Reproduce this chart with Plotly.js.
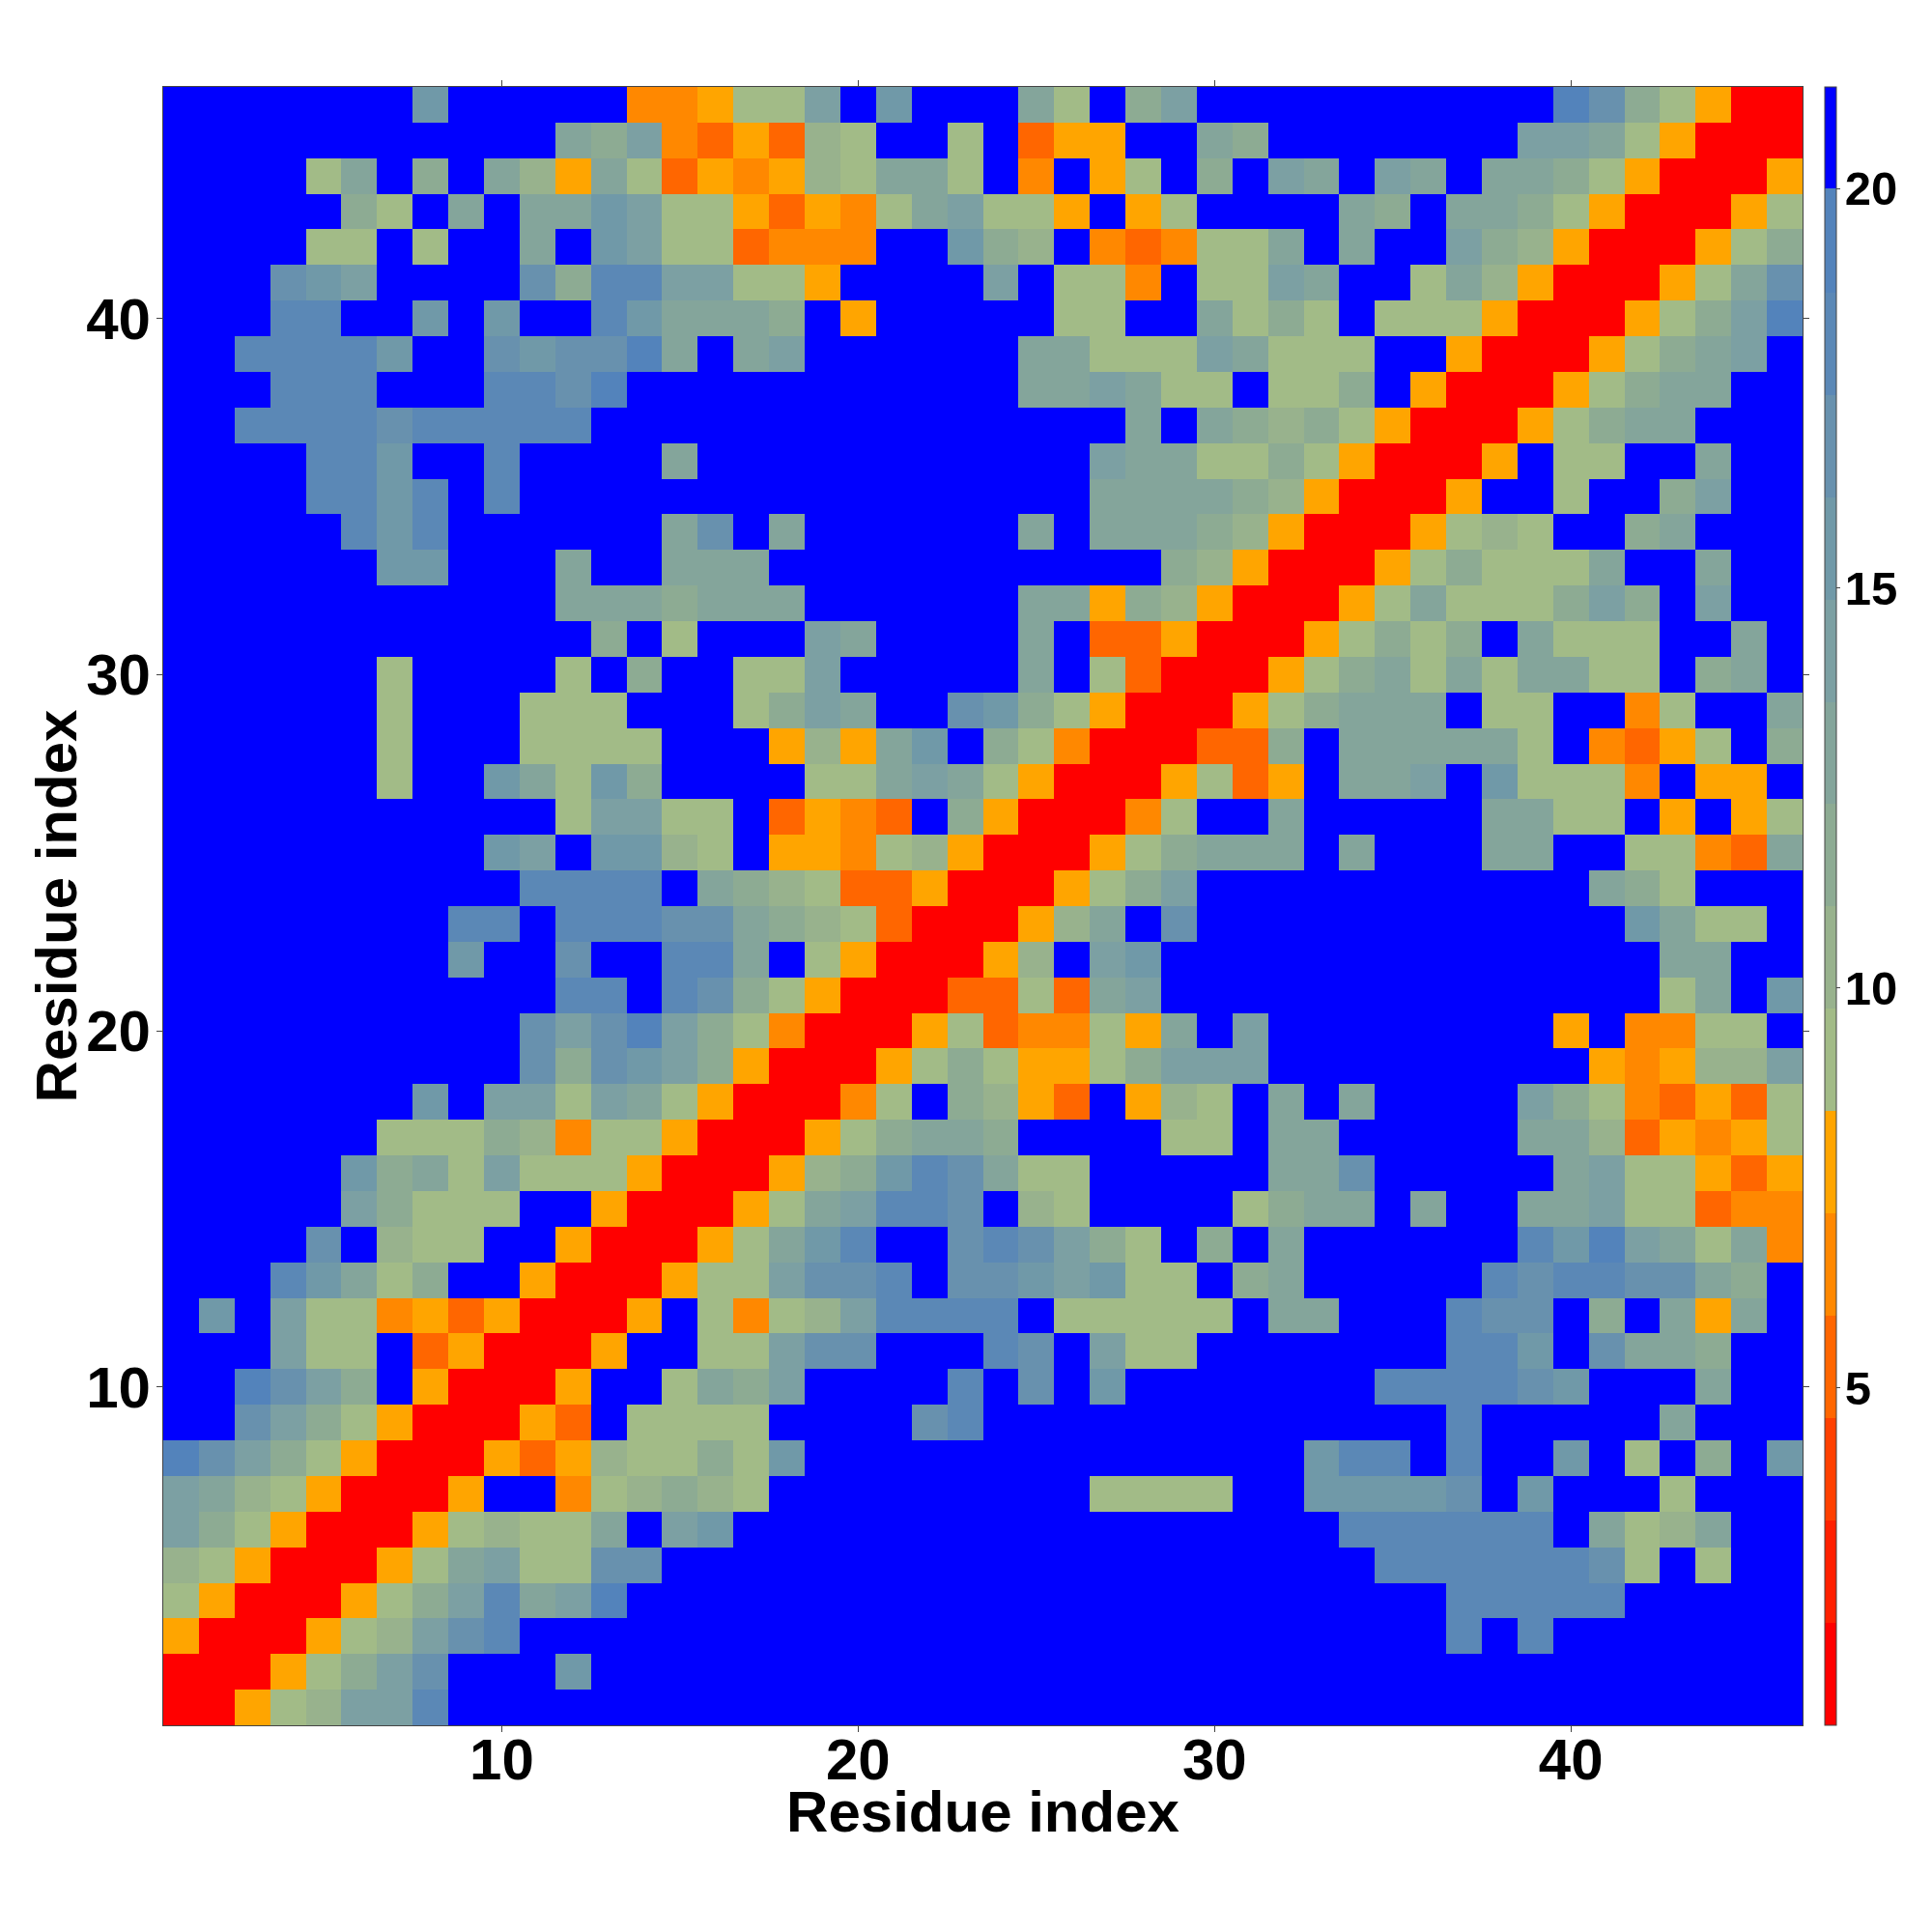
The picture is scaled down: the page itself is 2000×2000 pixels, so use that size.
<!DOCTYPE html>
<html>
<head>
<meta charset="utf-8">
<script src="https://cdn.plot.ly/plotly-3.0.1.min.js"></script>
<style>html,body{margin:0;padding:0;background:#fff}</style>
</head>
<body>
<div id="chart" style="width:2000px;height:2000px"></div>
<script>
const row46 = [21,21,21,21,21,21,21,15,21,21,21,21,21,7,7,8,9,9,14,21,15,21,21,21,13,9,21,12,14,21,21,21,21,21,21,21,21,21,21,19,17,12,9,8,1,1];
const row45 = [21,21,21,21,21,21,21,21,21,21,21,13,12,14,7,5,8,5,10,9,21,21,9,21,5,8,8,21,21,13,12,21,21,21,21,21,21,21,14,14,13,9,8,1,1,1];
const row44 = [21,21,21,21,9,13,21,12,21,13,10,8,13,9,5,8,7,8,10,9,13,13,9,21,7,21,8,9,21,12,21,14,13,21,14,13,21,13,13,12,9,8,1,1,1,8];
const row43 = [21,21,21,21,21,12,9,21,13,21,13,13,15,14,9,9,8,5,8,7,9,13,14,9,9,8,21,8,9,21,21,21,21,13,12,21,13,13,12,9,8,1,1,1,8,9];
const row42 = [21,21,21,21,9,9,21,9,21,21,13,21,15,14,9,9,5,7,7,7,21,21,15,12,10,21,7,5,7,9,9,13,21,13,21,21,14,12,10,8,1,1,1,8,9,12];
const row41 = [21,21,21,17,15,14,21,21,21,21,17,12,18,18,14,14,9,9,8,21,21,21,21,14,21,9,9,7,21,9,9,14,13,21,21,9,13,10,8,1,1,1,8,9,13,17];
const row40 = [21,21,21,18,18,21,21,15,21,15,21,21,18,15,13,13,13,12,21,8,21,21,21,21,21,9,9,21,21,13,9,12,9,21,9,9,9,8,1,1,1,8,9,12,14,19];
const row39 = [21,21,18,18,18,18,15,21,21,17,15,17,17,19,13,21,13,14,21,21,21,21,21,21,13,13,9,9,9,14,13,9,9,9,21,21,8,1,1,1,8,9,12,13,14,21];
const row38 = [21,21,21,18,18,18,21,21,21,18,18,17,19,21,21,21,21,21,21,21,21,21,21,21,13,13,14,13,9,9,21,9,9,12,21,8,1,1,1,8,9,12,13,13,21,21];
const row37 = [21,21,18,18,18,18,17,18,18,18,18,18,21,21,21,21,21,21,21,21,21,21,21,21,21,21,21,13,21,13,12,10,12,9,8,1,1,1,8,9,12,13,13,21,21,21];
const row36 = [21,21,21,21,18,18,15,21,21,18,21,21,21,21,13,21,21,21,21,21,21,21,21,21,21,21,14,13,13,9,9,12,9,8,1,1,1,8,21,9,9,21,21,13,21,21];
const row35 = [21,21,21,21,18,18,15,18,21,18,21,21,21,21,21,21,21,21,21,21,21,21,21,21,21,21,13,13,13,13,12,10,8,1,1,1,8,21,21,9,21,21,12,14,21,21];
const row34 = [21,21,21,21,21,18,15,18,21,21,21,21,21,21,13,17,21,13,21,21,21,21,21,21,13,21,13,13,13,12,10,8,1,1,1,8,9,10,9,21,21,12,13,21,21,21];
const row33 = [21,21,21,21,21,21,15,15,21,21,21,13,21,21,13,13,13,21,21,21,21,21,21,21,21,21,21,21,12,10,8,1,1,1,8,9,12,9,9,9,13,21,21,13,21,21];
const row32 = [21,21,21,21,21,21,21,21,21,21,21,13,13,13,12,13,13,13,21,21,21,21,21,21,13,13,8,12,10,8,1,1,1,8,9,13,9,9,9,12,14,12,21,14,21,21];
const row31 = [21,21,21,21,21,21,21,21,21,21,21,21,12,21,9,21,21,21,14,13,21,21,21,21,13,21,5,5,8,1,1,1,8,9,12,9,12,21,13,9,9,9,21,21,13,21];
const row30 = [21,21,21,21,21,21,9,21,21,21,21,9,21,12,21,21,9,9,14,21,21,21,21,21,13,21,9,5,1,1,1,8,9,12,13,9,13,9,13,13,9,9,21,12,13,21];
const row29 = [21,21,21,21,21,21,9,21,21,21,9,9,9,21,21,21,9,12,14,13,21,21,17,15,12,9,8,1,1,1,8,9,12,13,13,13,21,9,9,21,21,7,9,21,21,13];
const row28 = [21,21,21,21,21,21,9,21,21,21,9,9,9,9,21,21,21,8,10,8,13,15,21,12,9,7,1,1,1,5,5,12,21,13,13,13,13,13,9,21,7,5,8,9,21,12];
const row27 = [21,21,21,21,21,21,9,21,21,15,13,9,15,12,21,21,21,21,9,9,13,14,13,9,8,1,1,1,8,9,5,8,21,13,13,14,21,15,9,9,9,7,21,8,8,21];
const row26 = [21,21,21,21,21,21,21,21,21,21,21,9,14,14,9,9,21,5,8,7,5,21,12,8,1,1,1,7,9,21,21,13,21,21,21,21,21,13,13,9,9,21,8,21,8,9];
const row25 = [21,21,21,21,21,21,21,21,21,15,14,21,15,15,10,9,21,8,8,7,9,10,8,1,1,1,8,9,12,13,13,13,21,13,21,21,21,13,13,21,21,9,9,7,5,13];
const row24 = [21,21,21,21,21,21,21,21,21,21,18,18,18,18,21,13,12,10,9,5,5,8,1,1,1,8,9,12,14,21,21,21,21,21,21,21,21,21,21,21,13,12,9,21,21,21];
const row23 = [21,21,21,21,21,21,21,21,18,18,21,18,18,18,17,17,13,12,10,9,5,1,1,1,8,10,13,21,17,21,21,21,21,21,21,21,21,21,21,21,21,15,13,9,9,21];
const row22 = [21,21,21,21,21,21,21,21,15,21,21,17,21,21,18,18,13,21,9,8,1,1,1,8,10,21,14,15,21,21,21,21,21,21,21,21,21,21,21,21,21,21,13,13,21,21];
const row21 = [21,21,21,21,21,21,21,21,21,21,21,18,18,21,18,17,12,9,8,1,1,1,5,5,9,5,13,14,21,21,21,21,21,21,21,21,21,21,21,21,21,21,9,13,21,15];
const row20 = [21,21,21,21,21,21,21,21,21,21,17,14,17,19,14,12,9,7,1,1,1,8,9,5,7,7,9,8,13,21,14,21,21,21,21,21,21,21,21,8,21,7,7,9,9,21];
const row19 = [21,21,21,21,21,21,21,21,21,21,17,12,17,15,14,12,8,1,1,1,8,9,12,9,8,8,9,12,14,14,14,21,21,21,21,21,21,21,21,21,8,7,8,10,10,14];
const row18 = [21,21,21,21,21,21,21,15,21,14,14,9,14,13,9,8,1,1,1,7,9,21,12,10,8,5,21,8,10,9,21,13,21,13,21,21,21,21,14,12,9,7,5,8,5,9];
const row17 = [21,21,21,21,21,21,9,9,9,12,10,7,9,9,8,1,1,1,8,9,12,13,13,12,21,21,21,21,9,9,21,13,13,21,21,21,21,21,13,13,10,5,8,7,8,9];
const row16 = [21,21,21,21,21,15,12,13,9,14,9,9,9,8,1,1,1,8,10,12,15,18,17,13,9,9,21,21,21,21,21,13,13,17,21,21,21,21,21,13,14,9,9,8,5,8];
const row15 = [21,21,21,21,21,14,12,9,9,9,21,21,8,1,1,1,8,9,13,14,18,18,17,21,10,9,21,21,21,21,9,12,13,13,21,13,21,21,13,13,14,9,9,5,7,7];
const row14 = [21,21,21,21,17,21,10,9,9,21,21,8,1,1,1,8,9,13,15,18,21,21,17,18,17,14,12,9,21,12,21,13,21,21,21,21,21,21,18,15,19,14,13,9,13,7];
const row13 = [21,21,21,18,15,13,9,12,21,21,8,1,1,1,8,9,9,14,17,17,18,21,17,17,15,14,15,9,9,21,12,13,21,21,21,21,21,18,17,18,18,17,17,13,12,21];
const row12 = [21,15,21,14,9,9,7,8,5,8,1,1,1,8,21,9,7,9,10,14,18,18,18,18,21,9,9,9,9,9,21,13,13,21,21,21,18,17,17,21,12,21,13,8,13,21];
const row11 = [21,21,21,14,9,9,21,5,8,1,1,1,8,21,21,9,9,14,17,17,21,21,21,18,17,21,14,9,9,21,21,21,21,21,21,21,18,18,15,21,17,13,13,12,21,21];
const row10 = [21,21,19,17,14,12,21,8,1,1,1,8,21,21,9,13,12,14,21,21,21,21,18,21,17,21,15,21,21,21,21,21,21,21,18,18,18,18,17,15,21,21,21,13,21,21];
const row09 = [21,21,17,14,12,9,8,1,1,1,8,5,21,9,9,9,9,21,21,21,21,17,18,21,21,21,21,21,21,21,21,21,21,21,21,21,18,21,21,21,21,21,13,21,21,21];
const row08 = [19,17,14,12,9,8,1,1,1,8,5,8,10,9,9,12,9,15,21,21,21,21,21,21,21,21,21,21,21,21,21,21,15,18,18,21,18,21,21,15,21,9,21,12,21,15];
const row07 = [14,13,10,9,8,1,1,1,8,21,21,7,9,10,12,10,9,21,21,21,21,21,21,21,21,21,9,9,9,9,21,21,15,15,15,15,17,21,15,21,21,21,9,21,21,21];
const row06 = [14,12,9,8,1,1,1,8,9,10,9,9,13,21,14,15,21,21,21,21,21,21,21,21,21,21,21,21,21,21,21,21,21,18,18,18,18,18,18,21,13,9,10,13,21,21];
const row05 = [10,9,8,1,1,1,8,9,13,14,9,9,17,17,21,21,21,21,21,21,21,21,21,21,21,21,21,21,21,21,21,21,21,21,18,18,18,18,18,18,17,9,21,9,21,21];
const row04 = [9,8,1,1,1,8,9,12,14,18,13,14,19,21,21,21,21,21,21,21,21,21,21,21,21,21,21,21,21,21,21,21,21,21,21,21,18,18,18,18,18,21,21,21,21,21];
const row03 = [8,1,1,1,8,9,10,14,17,18,21,21,21,21,21,21,21,21,21,21,21,21,21,21,21,21,21,21,21,21,21,21,21,21,21,21,18,21,18,21,21,21,21,21,21,21];
const row02 = [1,1,1,8,9,12,14,17,21,21,21,15,21,21,21,21,21,21,21,21,21,21,21,21,21,21,21,21,21,21,21,21,21,21,21,21,21,21,21,21,21,21,21,21,21,21];
const row01 = [1,1,8,9,10,14,14,18,21,21,21,21,21,21,21,21,21,21,21,21,21,21,21,21,21,21,21,21,21,21,21,21,21,21,21,21,21,21,21,21,21,21,21,21,21,21];

const residues = [1,2,3,4,5,6,7,8,9,10,11,12,13,14,15,16,17,18,19,20,21,22,23,24,25,26,27,28,29,30,31,32,33,34,35,36,37,38,39,40,41,42,43,44,45,46];
const axisTicks = [10,20,30,40];
const barTicks = [5,10,15,20];
const levelEdges = [0.78,2.06,3.34,4.62,5.9,7.18,8.46,9.74,11.02,12.3,13.58,14.86,16.14,17.42,18.7,20,21.27];
const levelColors = ['#ff0000','#ff2000','#ff4000','#ff6600','#ff8800','#ffa500','#a2bb87','#98b28d','#8dab93','#84a59b','#7ca0a3','#7099a8','#6891ae','#5b88b6','#5383bb','#0000ff'];

const z = [row01,row02,row03,row04,row05,row06,row07,row08,row09,row10,row11,row12,row13,row14,row15,row16,row17,row18,row19,row20,row21,row22,row23,row24,row25,row26,row27,row28,row29,row30,row31,row32,row33,row34,row35,row36,row37,row38,row39,row40,row41,row42,row43,row44,row45,row46];
z.forEach((r,i)=>{ if(r.length!==46) throw new Error('row '+(i+1)+' has '+r.length); });

const zmin = levelEdges[0], zmax = levelEdges[levelEdges.length-1];
const colorscale = [];
levelColors.forEach((c,i)=>{
  colorscale.push([(levelEdges[i]-zmin)/(zmax-zmin), c]);
  colorscale.push([(levelEdges[i+1]-zmin)/(zmax-zmin), c]);
});

const fam = '"Liberation Sans", Arial, sans-serif';
const tickFont = {family:fam, size:60, color:'#000', weight:700};
const titleFont = {family:fam, size:60, color:'#000', weight:700};

Plotly.newPlot('chart',[{
  type:'heatmap', x:residues, y:residues, z:z, zmin:zmin, zmax:zmax,
  colorscale:colorscale, zsmooth:false, hoverongaps:false,
  colorbar:{
    x:1.01355, xanchor:'left', xpad:0, y:0.5, yanchor:'middle', ypad:0, len:1, lenmode:'fraction',
    thickness:12, thicknessmode:'pixels', outlinewidth:1, outlinecolor:'#444',
    tickmode:'array', tickvals:barTicks, ticktext:barTicks.map(String),
    ticks:'outside', ticklen:4, tickwidth:1, tickcolor:'#444',
    tickfont:{family:fam, size:49, color:'#000', weight:700}
  }
}],{
  width:2000, height:2000, paper_bgcolor:'#fff', plot_bgcolor:'#fff', showlegend:false,
  margin:{l:169, r:134, t:90, b:214, pad:0},
  xaxis:{range:[0.5,46.5], tickmode:'array', tickvals:axisTicks, ticktext:axisTicks.map(String),
    ticks:'outside', ticklen:6, tickwidth:1, tickcolor:'#444', showgrid:false, zeroline:false,
    showline:true, linecolor:'#444', linewidth:1, mirror:'ticks', tickfont:tickFont, ticklabelstandoff:-23,
    title:{text:'Residue index', font:titleFont, standoff:0}, automargin:false},
  yaxis:{range:[0.5,46.5], tickmode:'array', tickvals:axisTicks, ticktext:axisTicks.map(String),
    ticks:'outside', ticklen:6, tickwidth:1, tickcolor:'#444', showgrid:false, zeroline:false,
    showline:true, linecolor:'#444', linewidth:1, mirror:'ticks', tickfont:tickFont, ticklabelstandoff:-6,
    title:{text:'Residue index', font:titleFont, standoff:0}, automargin:false}
},{displayModeBar:false, staticPlot:true}).then(()=>{
  document.querySelectorAll('.cbaxis .ytick text, .cbaxis .cbtick text, g[class*="cbaxis"] text').forEach(t=>{
    t.setAttribute('x', parseFloat(t.getAttribute('x')||0) - 5);
  });
  const nudge = (sel,dx,dy)=>{
    const t = document.querySelector(sel);
    if(t) t.setAttribute('transform','translate('+dx+','+dy+') '+(t.getAttribute('transform')||''));
  };
  nudge('.xtitle',0,-13);
  nudge('.ytitle',10,0);
});
</script>
</body>
</html>
